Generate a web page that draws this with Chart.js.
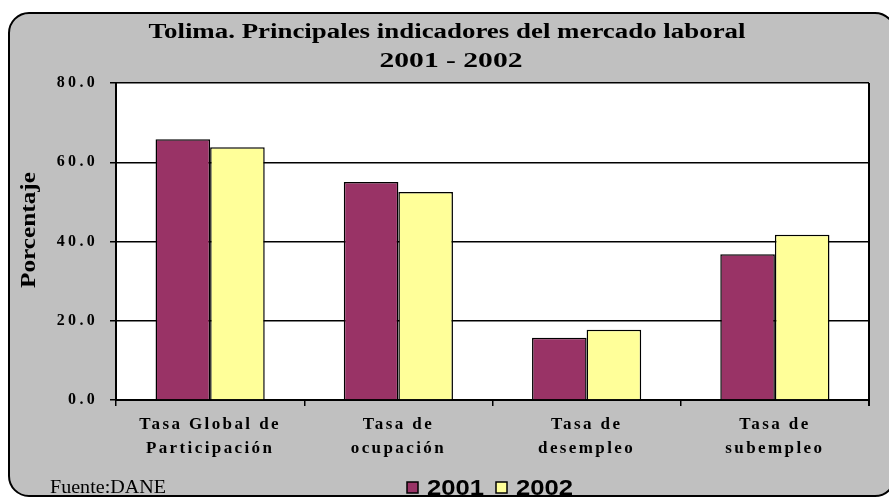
<!DOCTYPE html>
<html><head><meta charset="utf-8">
<script src="https://cdn.jsdelivr.net/npm/chart.js@4.4.1/dist/chart.umd.min.js"></script>
<style>html,body{margin:0;padding:0;background:#fff;}#wrap{width:889px;height:498px;position:relative}canvas{display:block}</style>
</head><body><div id="wrap"><canvas id="c" width="889" height="498"></canvas></div>
<script>
// ---- data ----
const categories = [['Tasa Global de','Participación'],['Tasa de','ocupación'],['Tasa de','desempleo'],['Tasa de','subempleo']];
const seriesNames = ['2001','2002'];
const values2001 = [65.8, 55.0, 15.7, 36.8];
const values2002 = [63.8, 52.5, 17.7, 41.7];
const yTicks = [0, 20, 40, 60, 80];
const titleLines = ['Tolima. Principales indicadores del mercado laboral', '2001 - 2002'];
const yTitle = 'Porcentaje';
const sourceNote = 'Fuente:DANE';
const seriesColors = ['#993366', '#ffff99'];

const SERIF = '"Liberation Serif", "Times New Roman", serif';
const SANS = '"Liberation Sans", Arial, sans-serif';

function scaledText(ctx, text, x, y, font, align, targetW, rot) {
  ctx.save();
  ctx.font = font;
  ctx.letterSpacing = '0px';
  const w = ctx.measureText(text).width;
  const sx = targetW / w;
  ctx.translate(x, y);
  if (rot) ctx.rotate(rot);
  ctx.scale(sx, 1);
  ctx.textAlign = align;
  ctx.textBaseline = 'alphabetic';
  ctx.fillStyle = '#000';
  ctx.fillText(text, 0, 0);
  ctx.restore();
}

const decor = {
  id: 'decor',
  beforeDraw(chart) {
    const ctx = chart.ctx, a = chart.chartArea;
    ctx.save();
    ctx.fillStyle = '#ffffff';
    ctx.fillRect(0, 0, chart.width, chart.height);
    ctx.beginPath();
    ctx.roundRect(9, 13, 886, 483, 20);
    ctx.fillStyle = '#c0c0c0';
    ctx.fill();
    ctx.lineWidth = 2;
    ctx.strokeStyle = '#000';
    ctx.stroke();
    ctx.fillStyle = '#ffffff';
    ctx.fillRect(a.left, a.top, a.right - a.left, a.bottom - a.top);
    ctx.restore();
    ctx.letterSpacing = '3.3px';
  },
  afterDatasetsDraw(chart) {
    chart.ctx.letterSpacing = '2.4px';
  },
  afterDraw(chart) {
    const ctx = chart.ctx, a = chart.chartArea;
    ctx.save();
    ctx.letterSpacing = '0px';
    ctx.strokeStyle = '#000';
    ctx.lineWidth = 2;
    ctx.beginPath();
    ctx.moveTo(a.right, a.top);
    ctx.lineTo(a.right, a.bottom + 6);
    ctx.stroke();
    // title
    scaledText(ctx, titleLines[0], 447, 38, 'bold 20px ' + SERIF, 'center', 597);
    scaledText(ctx, titleLines[1], 451, 67, 'bold 20px ' + SERIF, 'center', 143);
    // y title
    scaledText(ctx, yTitle, 35, 230, 'bold 20px ' + SERIF, 'center', 116, -Math.PI / 2);
    // source
    scaledText(ctx, sourceNote, 50, 493, '18px ' + SERIF, 'left', 116);
    // legend
    let x = 407;
    seriesNames.forEach((name, i) => {
      ctx.fillStyle = seriesColors[i];
      ctx.fillRect(x, 482, 11, 11);
      ctx.lineWidth = 1.5;
      ctx.strokeStyle = '#000';
      ctx.strokeRect(x, 482, 11, 11);
      scaledText(ctx, name, x + 20, 495, 'bold 22px ' + SANS, 'left', 57);
      x += 89;
    });
    ctx.restore();
  }
};

new Chart(document.getElementById('c'), {
  type: 'bar',
  data: {
    labels: categories,
    datasets: [
      { label: seriesNames[0], data: values2001, backgroundColor: seriesColors[0], borderColor: '#000', borderWidth: 1.5, categoryPercentage: 0.58, barPercentage: 1 },
      { label: seriesNames[1], data: values2002, backgroundColor: seriesColors[1], borderColor: '#000', borderWidth: 1.5, categoryPercentage: 0.58, barPercentage: 1 }
    ]
  },
  options: {
    responsive: false,
    animation: false,
    devicePixelRatio: 1,
    layout: { padding: { top: 83, right: 20, left: 0, bottom: 0 } },
    plugins: { legend: { display: false }, title: { display: false }, tooltip: { enabled: false } },
    scales: {
      x: {
        offset: true,
        grid: { display: true, drawOnChartArea: false, drawTicks: true, tickLength: 6, color: '#000', lineWidth: 1.5, offset: true },
        border: { color: '#000', width: 2 },
        ticks: { font: { family: SERIF, size: 17, weight: 'bold', lineHeight: 1.38 }, color: '#000', padding: 7, maxRotation: 0, autoSkip: false, z: 1 },
        afterFit(s) { s.height = 98; }
      },
      y: {
        min: 0, max: 80,
        afterBuildTicks(s) { s.ticks = yTicks.map(v => ({ value: v })); },
        grid: { color: '#000', lineWidth: 1.5, tickLength: 6 },
        border: { color: '#000', width: 2 },
        ticks: { callback: v => Number(v).toFixed(1), font: { family: SERIF, size: 16, weight: 'bold' }, color: '#000', padding: 12 },
        afterFit(s) { s.width = 116; }
      }
    }
  },
  plugins: [decor]
});
</script>
</body></html>
